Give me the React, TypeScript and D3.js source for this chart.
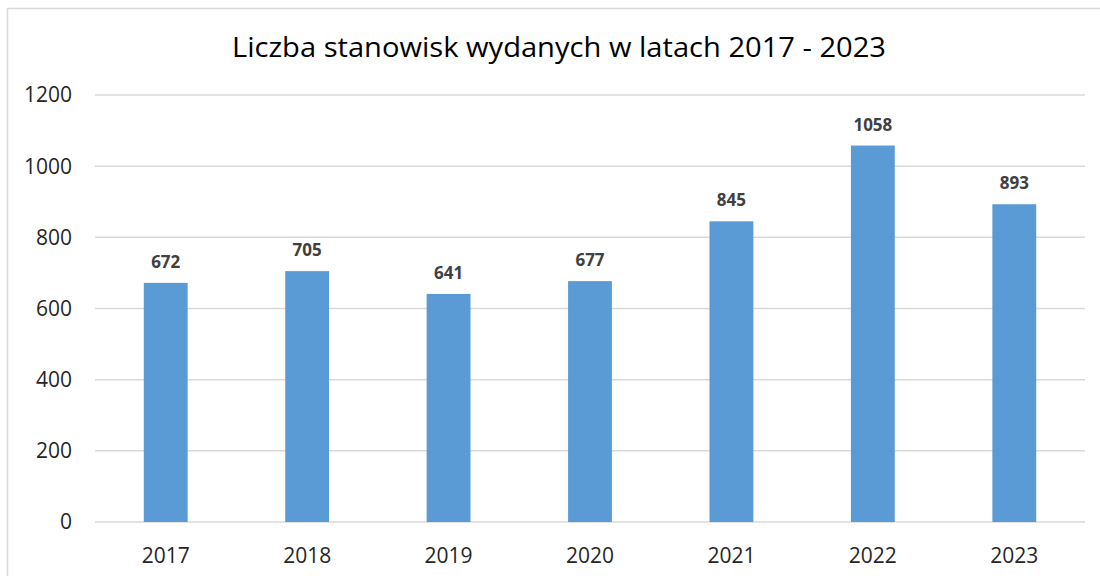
import { useEffect, useRef } from "react"
import * as d3 from "d3"

const years = ["2017", "2018", "2019", "2020", "2021", "2022", "2023"]
const counts = [672, 705, 641, 677, 845, 1058, 893]
const yTicks = [0, 200, 400, 600, 800, 1000, 1200]
const title = "Liczba stanowisk wydanych w latach 2017 - 2023"

export default function App() {
  const svgRef = useRef<SVGSVGElement>(null)

  useEffect(() => {
    if (!svgRef.current) return
    const svg = d3.select(svgRef.current)
    svg.selectAll("*").remove()

    const width = 1100
    const height = 576
    const font = "'Open Sans', 'Noto Sans', sans-serif"

    svg.attr("width", width).attr("height", height)

    svg.append("rect").attr("width", width).attr("height", height).attr("fill", "#ffffff")

    // chart border (right/bottom are cut off)
    svg
      .append("rect")
      .attr("x", 7.5)
      .attr("y", 8.5)
      .attr("width", width + 10)
      .attr("height", height + 10)
      .attr("fill", "none")
      .attr("stroke", "#d9d9d9")
      .attr("stroke-width", 1.5)

    const x = d3.scaleBand().domain(years).range([95, 1085]).paddingInner(0.69).paddingOuter(0.345)
    const y = d3.scaleLinear().domain([0, 1200]).range([522, 95])

    // gridlines
    svg
      .append("g")
      .selectAll("line")
      .data(yTicks)
      .enter()
      .append("line")
      .attr("x1", 95)
      .attr("x2", 1085)
      .attr("y1", (d) => y(d))
      .attr("y2", (d) => y(d))
      .attr("stroke", "#d9d9d9")
      .attr("stroke-width", 1.5)

    // y labels
    svg
      .append("g")
      .selectAll("text")
      .data(yTicks)
      .enter()
      .append("text")
      .attr("x", 72)
      .attr("y", (d) => y(d))
      .attr("dy", "0.35em")
      .attr("text-anchor", "end")
      .style("font-family", font)
      .style("font-size", "21px")
      .style("fill", "#262626")
      .text((d) => d)

    // bars
    svg
      .append("g")
      .selectAll("rect")
      .data(counts)
      .enter()
      .append("rect")
      .attr("x", (d, i) => x(years[i])!)
      .attr("y", (d) => y(d))
      .attr("width", x.bandwidth())
      .attr("height", (d) => y(0) - y(d))
      .attr("fill", "#5b9bd5")

    // value labels
    svg
      .append("g")
      .selectAll("text")
      .data(counts)
      .enter()
      .append("text")
      .attr("x", (d, i) => x(years[i])! + x.bandwidth() / 2)
      .attr("y", (d) => y(d) - 15)
      .attr("text-anchor", "middle")
      .style("font-family", font)
      .style("font-size", "17px")
      .style("font-weight", "bold")
      .style("fill", "#404040")
      .text((d) => d)

    // x labels
    svg
      .append("g")
      .selectAll("text")
      .data(years)
      .enter()
      .append("text")
      .attr("x", (d) => x(d)! + x.bandwidth() / 2)
      .attr("y", 563)
      .attr("text-anchor", "middle")
      .style("font-family", font)
      .style("font-size", "21px")
      .style("fill", "#262626")
      .text((d) => d)

    // title
    svg
      .append("text")
      .attr("x", 559)
      .attr("y", 57)
      .attr("text-anchor", "middle")
      .attr("textLength", 654)
      .attr("lengthAdjust", "spacingAndGlyphs")
      .style("font-family", font)
      .style("font-size", "27px")
      .style("fill", "#000000")
      .text(title)
  }, [])

  return (
    <div style={{ position: "absolute", left: 0, top: 0 }}>
      <svg ref={svgRef} style={{ display: "block" }}></svg>
    </div>
  )
}
